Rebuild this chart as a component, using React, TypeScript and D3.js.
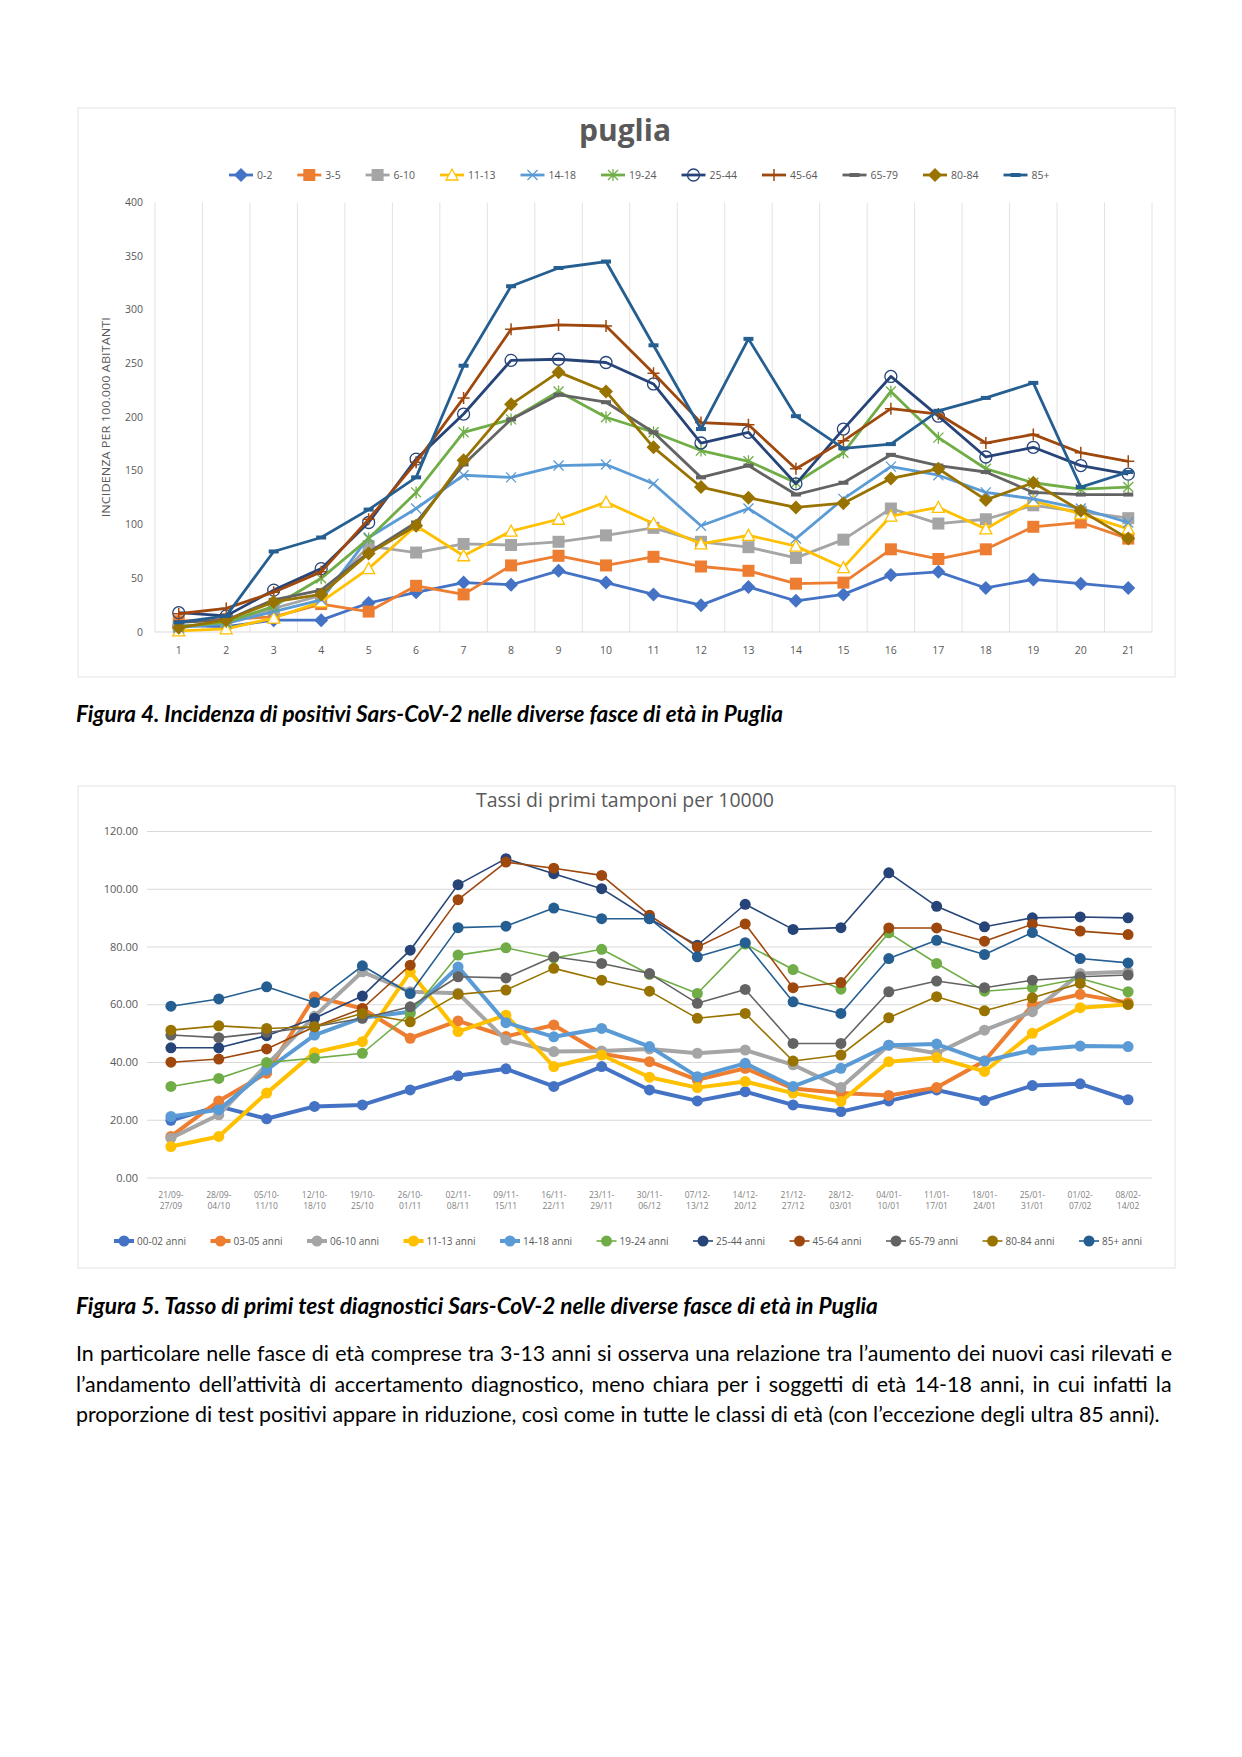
import React from 'react';
import * as d3 from 'd3';

// ---- chart 1: incidenza per 100.000 abitanti (settimane 1..21)
const weekNumbers = ['1','2','3','4','5','6','7','8','9','10','11','12','13','14','15','16','17','18','19','20','21'];

const inc0_2 = [6, 5, 11, 11, 27, 37, 46, 44, 57, 46, 35, 25, 42, 29, 35, 53, 56, 41, 49, 45, 41];
const inc3_5 = [10, 12, 14, 26, 19, 43, 35, 62, 71, 62, 70, 61, 57, 45, 46, 77, 68, 77, 98, 102, 87];
const inc6_10 = [5, 8, 22, 34, 80, 74, 82, 81, 84, 90, 97, 84, 79, 69, 86, 115, 101, 105, 118, 112, 106];
const inc11_13 = [1, 3, 13, 28, 59, 99, 71, 94, 105, 121, 101, 82, 90, 80, 60, 108, 116, 96, 122, 110, 96];
const inc14_18 = [4, 8, 19, 30, 88, 115, 146, 144, 155, 156, 138, 99, 115, 87, 124, 154, 146, 130, 124, 115, 102];
const inc19_24 = [5, 9, 24, 50, 87, 130, 186, 198, 224, 200, 186, 169, 159, 139, 167, 224, 181, 152, 139, 133, 135];
const inc25_44 = [18, 15, 39, 59, 102, 161, 203, 253, 254, 251, 231, 176, 186, 138, 189, 238, 201, 163, 172, 155, 147];
const inc45_64 = [17, 22, 37, 56, 105, 158, 218, 282, 286, 285, 241, 195, 193, 152, 178, 208, 203, 176, 184, 167, 159];
const inc65_79 = [9, 11, 30, 39, 74, 102, 156, 198, 221, 214, 186, 144, 155, 128, 139, 165, 155, 149, 130, 128, 128];
const inc80_84 = [4, 11, 28, 35, 73, 99, 160, 212, 242, 224, 172, 135, 125, 116, 120, 143, 152, 123, 139, 113, 87];
const inc85 = [9, 15, 75, 88, 114, 144, 248, 322, 339, 345, 267, 189, 273, 201, 171, 175, 206, 218, 232, 135, 149];

const incTicks = [0, 50, 100, 150, 200, 250, 300, 350, 400];

// ---- chart 2: tassi di primi tamponi per 10000
const weekRanges = ['21/09-27/09','28/09-04/10','05/10-11/10','12/10-18/10','19/10-25/10','26/10-01/11','02/11-08/11','09/11-15/11','16/11-22/11','23/11-29/11','30/11-06/12','07/12-13/12','14/12-20/12','21/12-27/12','28/12-03/01','04/01-10/01','11/01-17/01','18/01-24/01','25/01-31/01','01/02-07/02','08/02-14/02'];

const tam0_2 = [20, 24.8, 20.5, 24.8, 25.3, 30.5, 35.4, 37.8, 31.7, 38.6, 30.5, 26.7, 29.9, 25.3, 23, 26.7, 30.5, 26.8, 32, 32.6, 27.1];
const tam3_5 = [14.4, 26.7, 36.3, 62.8, 58.7, 48.4, 54.4, 49, 53, 43, 40.3, 34, 38, 31, 29.4, 28.6, 31.3, 40.5, 59.9, 63.6, 60.7];
const tam6_10 = [13.8, 21.9, 39.2, 56, 71.4, 64.5, 64, 47.8, 43.8, 44, 44.7, 43.2, 44.3, 39.2, 31.3, 46, 43.2, 51.2, 57.6, 70.8, 71.4];
const tam11_13 = [10.9, 14.4, 29.4, 43.5, 47.2, 71.4, 50.7, 56.4, 38.6, 42.6, 34.9, 31.3, 33.4, 29.4, 26.5, 40.3, 41.7, 36.9, 50.1, 59, 60.1];
const tam14_18 = [21.3, 23.6, 37.4, 49.5, 55.5, 57.6, 73.1, 53.8, 48.9, 51.8, 45.5, 35.1, 39.7, 31.7, 38, 46, 46.4, 40.5, 44.3, 45.7, 45.5];
const tam19_24 = [31.7, 34.5, 40, 41.5, 43.2, 57, 77.2, 79.7, 76.2, 79.2, 70.5, 63.9, 81, 72.2, 65.4, 84.9, 74.3, 64.7, 65.9, 69.1, 64.5];
const tam25_44 = [45.1, 45.1, 49.3, 55.3, 63, 78.9, 101.6, 110.6, 105.4, 100.2, 89.8, 80.6, 94.8, 86.1, 86.7, 105.7, 94.1, 87, 90.1, 90.4, 90.1];
const tam45_64 = [40.1, 41.2, 44.7, 52.4, 58.7, 73.7, 96.4, 109.4, 107.3, 104.8, 91, 80, 88, 65.9, 67.7, 86.6, 86.6, 82, 87.9, 85.5, 84.3];
const tam65_79 = [49.5, 48.6, 50.4, 52.4, 55.3, 59.3, 69.7, 69.3, 76.6, 74.3, 70.8, 60.5, 65.3, 46.6, 46.6, 64.5, 68.2, 65.9, 68.5, 69.7, 70.3];
const tam80_84 = [51.2, 52.7, 51.8, 52.4, 57, 54.1, 63.6, 65.1, 72.6, 68.5, 64.7, 55.3, 57, 40.5, 42.6, 55.5, 62.8, 57.9, 62.4, 67.4, 60.1];
const tam85 = [59.5, 62, 66.2, 60.8, 73.5, 63.9, 86.7, 87.2, 93.5, 89.8, 89.8, 76.6, 81.5, 61, 57, 76, 82.3, 77.4, 85, 76, 74.5];

const tamTicks = [0, 20, 40, 60, 80, 100, 120];

const series1 = [
  { label: '0-2', color: '#4472C4', marker: 'diamond', values: inc0_2 },
  { label: '3-5', color: '#ED7D31', marker: 'square', values: inc3_5 },
  { label: '6-10', color: '#A5A5A5', marker: 'square', values: inc6_10 },
  { label: '11-13', color: '#FFC000', marker: 'triangle', values: inc11_13 },
  { label: '14-18', color: '#5B9BD5', marker: 'x', values: inc14_18 },
  { label: '19-24', color: '#70AD47', marker: 'star', values: inc19_24 },
  { label: '25-44', color: '#264478', marker: 'circle', values: inc25_44 },
  { label: '45-64', color: '#9E480E', marker: 'plus', values: inc45_64 },
  { label: '65-79', color: '#636363', marker: 'dash', values: inc65_79 },
  { label: '80-84', color: '#997300', marker: 'diamond', values: inc80_84 },
  { label: '85+', color: '#255E91', marker: 'dash', values: inc85 },
];

const series2 = [
  { label: '00-02 anni', color: '#4472C4', thick: true, values: tam0_2 },
  { label: '03-05 anni', color: '#ED7D31', thick: true, values: tam3_5 },
  { label: '06-10 anni', color: '#A5A5A5', thick: true, values: tam6_10 },
  { label: '11-13 anni', color: '#FFC000', thick: true, values: tam11_13 },
  { label: '14-18 anni', color: '#5B9BD5', thick: true, values: tam14_18 },
  { label: '19-24 anni', color: '#70AD47', thick: false, values: tam19_24 },
  { label: '25-44 anni', color: '#264478', thick: false, values: tam25_44 },
  { label: '45-64 anni', color: '#9E480E', thick: false, values: tam45_64 },
  { label: '65-79 anni', color: '#636363', thick: false, values: tam65_79 },
  { label: '80-84 anni', color: '#997300', thick: false, values: tam80_84 },
  { label: '85+ anni', color: '#255E91', thick: false, values: tam85 },
];

const caption4 = 'Figura 4. Incidenza di positivi Sars-CoV-2 nelle diverse fasce di età in Puglia';
const caption5 = 'Figura 5. Tasso di primi test diagnostici Sars-CoV-2 nelle diverse fasce di età in Puglia';
const bodyLines = [
  'In particolare nelle fasce di età comprese tra 3-13 anni si osserva una relazione tra l’aumento dei nuovi casi rilevati e',
  'l’andamento dell’attività di accertamento diagnostico, meno chiara per i soggetti di età 14-18 anni, in cui infatti la',
  'proporzione di test positivi appare in riduzione, così come in tutte le classi di età (con l’eccezione degli ultra 85 anni).',
];

const CHART_FONT = '"Open Sans", "Noto Sans", sans-serif';
const DOC_FONT = 'Lato, "Noto Sans", sans-serif';

let measureCtx: CanvasRenderingContext2D | null = null;
function measure(text: string, font: string) {
  if (!measureCtx) measureCtx = document.createElement('canvas').getContext('2d');
  if (!measureCtx) return text.length * 9;
  measureCtx.font = font;
  return measureCtx.measureText(text).width;
}

function Marker1({ kind, x, y, color }: { kind: string; x: number; y: number; color: string }) {
  switch (kind) {
    case 'diamond':
      return <path d={`M${x},${y - 7}L${x + 7},${y}L${x},${y + 7}L${x - 7},${y}Z`} fill={color} />;
    case 'square':
      return <rect x={x - 6} y={y - 6} width={12} height={12} fill={color} />;
    case 'triangle':
      return <path d={`M${x},${y - 6}L${x + 6},${y + 5}L${x - 6},${y + 5}Z`} fill="#fff" stroke={color} strokeWidth={1.3} />;
    case 'x':
      return <path d={`M${x - 5},${y - 5}L${x + 5},${y + 5}M${x - 5},${y + 5}L${x + 5},${y - 5}`} stroke={color} strokeWidth={1.3} />;
    case 'star':
      return <path d={`M${x - 5},${y - 5}L${x + 5},${y + 5}M${x - 5},${y + 5}L${x + 5},${y - 5}M${x},${y - 6}L${x},${y + 6}`} stroke={color} strokeWidth={1.3} />;
    case 'circle':
      return <circle cx={x} cy={y} r={6} fill="none" stroke={color} strokeWidth={1.3} />;
    case 'plus':
      return <path d={`M${x - 6},${y}L${x + 6},${y}M${x},${y - 6}L${x},${y + 6}`} stroke={color} strokeWidth={1.5} />;
    case 'dash':
      return <rect x={x - 5} y={y - 2} width={10} height={4} fill={color} />;
    default:
      return null;
  }
}

function ChartOne() {
  const left = 155, right = 1152, top = 202.5, bottom = 632;
  const x = d3.scaleBand<string>().domain(weekNumbers).range([left, right]);
  const cx = (d: string) => (x(d) as number) + x.bandwidth() / 2;
  const y = d3.scaleLinear().domain([0, 400]).range([bottom, top]);
  const line = d3.line<number>().x((_, i) => cx(weekNumbers[i])).y((v) => y(v));

  let lx = 229;
  const legend = series1.map((s) => {
    const pos = lx;
    lx += 50 + s.label.length * 6.1;
    return { ...s, pos };
  });

  return (
    <g>
      <rect x={78} y={108} width={1097} height={569} fill="#fff" stroke="#e3e3e3" />
      <text x={625} y={141} textAnchor="middle" fontFamily={CHART_FONT} fontWeight="bold" fontSize={30} fill="#595959">puglia</text>
      {legend.map((s) => (
        <g key={s.label}>
          <line x1={s.pos} x2={s.pos + 24} y1={175} y2={175} stroke={s.color} strokeWidth={2.8} />
          <Marker1 kind={s.marker} x={s.pos + 12} y={175} color={s.color} />
          <text x={s.pos + 28} y={178.5} fontFamily={CHART_FONT} fontSize={10.5} fill="#595959">{s.label}</text>
        </g>
      ))}
      {d3.range(weekNumbers.length + 1).map((i) => {
        const gx = left + i * x.bandwidth();
        return <line key={i} x1={gx} x2={gx} y1={top} y2={bottom} stroke="#e2e2e2" strokeWidth={1} />;
      })}
      <line x1={left} x2={right} y1={bottom} y2={bottom} stroke="#d9d9d9" strokeWidth={1} />
      {incTicks.map((t) => (
        <text key={t} x={143} y={y(t) + 3.5} textAnchor="end" fontFamily={CHART_FONT} fontSize={10.5} fill="#595959">{t}</text>
      ))}
      {weekNumbers.map((w) => (
        <text key={w} x={cx(w)} y={654} textAnchor="middle" fontFamily={CHART_FONT} fontSize={10.5} fill="#595959">{w}</text>
      ))}
      <text transform={`translate(110,${(top + bottom) / 2}) rotate(-90)`} textAnchor="middle" fontFamily={CHART_FONT} fontSize={11} textLength={200} lengthAdjust="spacingAndGlyphs" fill="#595959">INCIDENZA PER 100.000 ABITANTI</text>
      {series1.map((s) => (
        <g key={s.label}>
          <path d={line(s.values) || ''} fill="none" stroke={s.color} strokeWidth={2.8} strokeLinejoin="round" />
          {s.values.map((v, i) => (
            <Marker1 key={i} kind={s.marker} x={cx(weekNumbers[i])} y={y(v)} color={s.color} />
          ))}
        </g>
      ))}
    </g>
  );
}

function ChartTwo() {
  const left = 147, right = 1152, top = 831.5, bottom = 1178;
  const x = d3.scaleBand<string>().domain(weekRanges).range([left, right]);
  const cx = (d: string) => (x(d) as number) + x.bandwidth() / 2;
  const y = d3.scaleLinear().domain([0, 120]).range([bottom, top]);
  const line = d3.line<number>().x((_, i) => cx(weekRanges[i])).y((v) => y(v));

  let lx = 114;
  const legend = series2.map((s) => {
    const pos = lx;
    lx += 36 + s.label.length * 6.05;
    return { ...s, pos };
  });

  return (
    <g>
      <rect x={78} y={786} width={1097} height={482} fill="#fff" stroke="#e3e3e3" />
      <text x={625} y={807} textAnchor="middle" fontFamily={CHART_FONT} fontSize={19.5} fill="#595959">Tassi di primi tamponi per 10000</text>
      {tamTicks.map((t) => (
        <g key={t}>
          <line x1={left} x2={right} y1={y(t)} y2={y(t)} stroke="#d9d9d9" strokeWidth={1.2} />
          <text x={138} y={y(t) + 3.5} textAnchor="end" fontFamily={CHART_FONT} fontSize={11} fill="#595959">{t.toFixed(2)}</text>
        </g>
      ))}
      {weekRanges.map((w) => {
        const [a, b] = w.split('-');
        return (
          <text key={w} x={cx(w)} textAnchor="middle" fontFamily={CHART_FONT} fontSize={8.5} fill="#7f7f7f">
            <tspan x={cx(w)} y={1198}>{a}-</tspan>
            <tspan x={cx(w)} y={1209}>{b}</tspan>
          </text>
        );
      })}
      {series2.map((s) => (
        <g key={s.label}>
          <path d={line(s.values) || ''} fill="none" stroke={s.color} strokeWidth={s.thick ? 4 : 1.6} strokeLinejoin="round" />
          {s.values.map((v, i) => (
            <circle key={i} cx={cx(weekRanges[i])} cy={y(v)} r={5.5} fill={s.color} />
          ))}
        </g>
      ))}
      {legend.map((s) => (
        <g key={s.label}>
          <line x1={s.pos} x2={s.pos + 20} y1={1241} y2={1241} stroke={s.color} strokeWidth={s.thick ? 4 : 1.6} />
          <circle cx={s.pos + 10} cy={1241} r={5.5} fill={s.color} />
          <text x={s.pos + 23} y={1244.5} fontFamily={CHART_FONT} fontSize={10} fill="#595959">{s.label}</text>
        </g>
      ))}
    </g>
  );
}

function FittedText({ text, x, y, width, size, italic, bold }: { text: string; x: number; y: number; width: number; size: number; italic?: boolean; bold?: boolean }) {
  const font = `${italic ? 'italic ' : ''}${bold ? 'bold ' : ''}${size}px ${DOC_FONT}`;
  const w = measure(text, font);
  const fs = size * (width / w);
  return (
    <text x={x} y={y} fontFamily={DOC_FONT} fontSize={fs} fontStyle={italic ? 'italic' : 'normal'} fontWeight={bold ? 'bold' : 'normal'} fill="#000">{text}</text>
  );
}

function BodyText({ x, y, lineGap }: { x: number; y: number; lineGap: number }) {
  // the last line is not justified: it sets the font size, the others get word spacing
  const widths = [1096, 1096, 1084];
  const base = 19;
  const lastW = measure(bodyLines[2], `${base}px ${DOC_FONT}`);
  const size = base * (widths[2] / lastW);
  return (
    <g>
      {bodyLines.map((l, i) => {
        const w = measure(l, `${size}px ${DOC_FONT}`);
        const spaces = (l.match(/ /g) || []).length;
        const ws = i < 2 && spaces ? (widths[i] - w) / spaces : 0;
        return (
          <text key={i} x={x} y={y + i * lineGap} fontFamily={DOC_FONT} fontSize={size} wordSpacing={ws} fill="#000">{l}</text>
        );
      })}
    </g>
  );
}

export default function App() {
  return (
    <svg width={1242} height={1757} style={{ position: 'absolute', left: 0, top: 0, background: '#fff' }}>
      <rect width={1242} height={1757} fill="#fff" />
      <ChartOne />
      <FittedText text={caption4} x={76} y={722} width={707} size={19} italic bold />
      <ChartTwo />
      <FittedText text={caption5} x={76} y={1314} width={803} size={19} italic bold />
      <BodyText x={76} y={1361} lineGap={30.5} />
    </svg>
  );
}
